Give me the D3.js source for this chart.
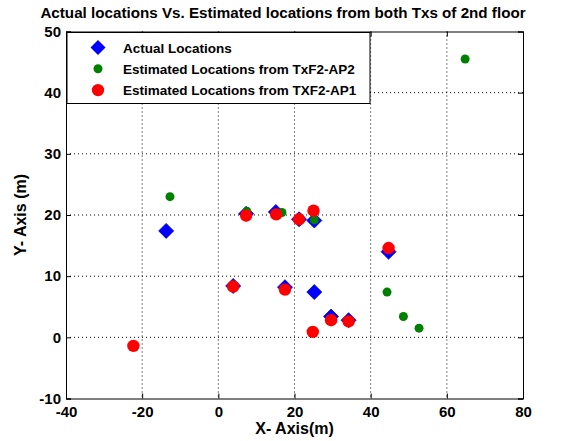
<!DOCTYPE html>
<html>
<head>
<meta charset="utf-8">
<script src="https://cdn.jsdelivr.net/npm/d3@7"></script>
<style>
  body { margin: 0; background: #fff; }
  svg { display: block; font-family: "Liberation Sans", Arial, sans-serif; }
</style>
</head>
<body>
<div id="chart"></div>
<script>
// Data
const actualX = [-13.7, 7.3, 15.1, 21.2, 25.2, 44.7, 3.9, 17.5, 25.2, 29.6, 34.2];
const actualY = [17.4, 20.2, 20.5, 19.3, 19.1, 14.0, 8.4, 8.2, 7.4, 3.4, 2.8];
const ap2X = [-12.7, 7.5, 16.7, 25.2, 44.3, 48.6, 52.7, 64.8];
const ap2Y = [23.0, 20.6, 20.4, 19.2, 7.4, 3.4, 1.5, 45.5];
const ap1X = [7.3, 15.2, 21.2, 25.0, 44.7, 3.9, 17.5, 29.6, 34.2, 24.8, -22.3];
const ap1Y = [19.9, 20.1, 19.3, 20.7, 14.6, 8.3, 7.8, 2.8, 2.6, 0.9, -1.4];
const xTicks = [-40, -20, 0, 20, 40, 60, 80];
const yTicks = [-10, 0, 10, 20, 30, 40, 50];
const legendLabels = ['Actual Locations', 'Estimated Locations from TxF2-AP2', 'Estimated Locations from TXF2-AP1'];

const width = 565, height = 441;
const margin = { top: 31.5, right: 42, bottom: 42.5, left: 66 };
const W = width - margin.left - margin.right;
const H = height - margin.top - margin.bottom;

const x = d3.scaleLinear().domain([-40, 80]).range([0, W]);
const y = d3.scaleLinear().domain([-10, 50]).range([H, 0]);

const svg = d3.select('#chart').append('svg')
  .attr('width', width).attr('height', height);

svg.append('text').attr('x', 283).attr('y', 18)
  .attr('text-anchor', 'middle').attr('font-size', '15.2px').attr('font-weight', 'bold')
  .text('Actual locations Vs. Estimated locations from both Txs of 2nd floor');

const g = svg.append('g').attr('transform', `translate(${margin.left},${margin.top})`);

// dotted grid
g.selectAll('.gx').data(xTicks.slice(1, -1)).join('line')
  .attr('x1', d => x(d)).attr('x2', d => x(d)).attr('y1', 0).attr('y2', H)
  .attr('stroke', '#000').attr('stroke-width', 1).attr('stroke-dasharray', '1,3');
g.selectAll('.gy').data(yTicks.slice(1, -1)).join('line')
  .attr('y1', d => y(d)).attr('y2', d => y(d)).attr('x1', 0).attr('x2', W)
  .attr('stroke', '#000').attr('stroke-width', 1).attr('stroke-dasharray', '1,3');

// axes (ticks pointing inside, box around)
const axFont = sel => sel.selectAll('text').attr('font-size', '15px').attr('font-weight', 'bold').attr('fill', '#000');
g.append('g').attr('transform', `translate(0,${H})`)
  .call(d3.axisBottom(x).tickValues(xTicks).tickSize(-5).tickPadding(7.5).tickFormat(d => String(d)))
  .call(axFont).call(s => s.select('.domain').attr('stroke', '#000'));
g.append('g')
  .call(d3.axisLeft(y).tickValues(yTicks).tickSize(-5).tickPadding(5).tickFormat(d => String(d)))
  .call(axFont).call(s => s.select('.domain').attr('stroke', '#000'));
g.append('g')
  .call(d3.axisTop(x).tickValues(xTicks).tickSize(-5).tickFormat(''));
g.append('g').attr('transform', `translate(${W},0)`)
  .call(d3.axisRight(y).tickValues(yTicks).tickSize(-5).tickFormat(''));

g.append('text').attr('x', W / 2).attr('y', H + 35.5)
  .attr('text-anchor', 'middle').attr('font-size', '16px').attr('font-weight', 'bold')
  .text('X- Axis(m)');
g.append('text').attr('transform', `translate(-40,${H / 2}) rotate(-90)`)
  .attr('text-anchor', 'middle').attr('font-size', '16px').attr('font-weight', 'bold')
  .text('Y- Axis (m)');

const diamond = s => `M0,${-s}L${s},0L0,${s}L${-s},0Z`;

// series
g.selectAll('.actual').data(actualX).join('path')
  .attr('class', 'actual')
  .attr('transform', (d, i) => `translate(${x(d)},${y(actualY[i])})`)
  .attr('d', diamond(7.5)).attr('fill', '#0000ff').attr('stroke', '#0000c0').attr('stroke-width', 0.8);
g.selectAll('.ap2').data(ap2X).join('circle')
  .attr('class', 'ap2')
  .attr('cx', d => x(d)).attr('cy', (d, i) => y(ap2Y[i])).attr('r', 4.5)
  .attr('fill', '#008000');
g.selectAll('.ap1').data(ap1X).join('circle')
  .attr('class', 'ap1')
  .attr('cx', d => x(d)).attr('cy', (d, i) => y(ap1Y[i])).attr('r', 6.2)
  .attr('fill', '#ff0000');

// legend
const leg = g.append('g').attr('transform', 'translate(1,1)');
leg.append('rect').attr('x', 0).attr('y', 0).attr('width', 303).attr('height', 71)
  .attr('fill', '#fff').attr('stroke', '#000');
legendLabels.forEach((l, i) => {
  const cy = 15 + i * 21.3;
  if (i === 0) leg.append('path').attr('transform', `translate(31,${cy})`).attr('d', diamond(7.5)).attr('fill', '#0000ff');
  else leg.append('circle').attr('cx', 31).attr('cy', cy).attr('r', i === 1 ? 4.5 : 6.2)
    .attr('fill', i === 1 ? '#008000' : '#ff0000');
  leg.append('text').attr('x', 56).attr('y', cy + 5)
    .attr('font-size', '13.5px').attr('font-weight', 'bold').text(l);
});
</script>
</body>
</html>
